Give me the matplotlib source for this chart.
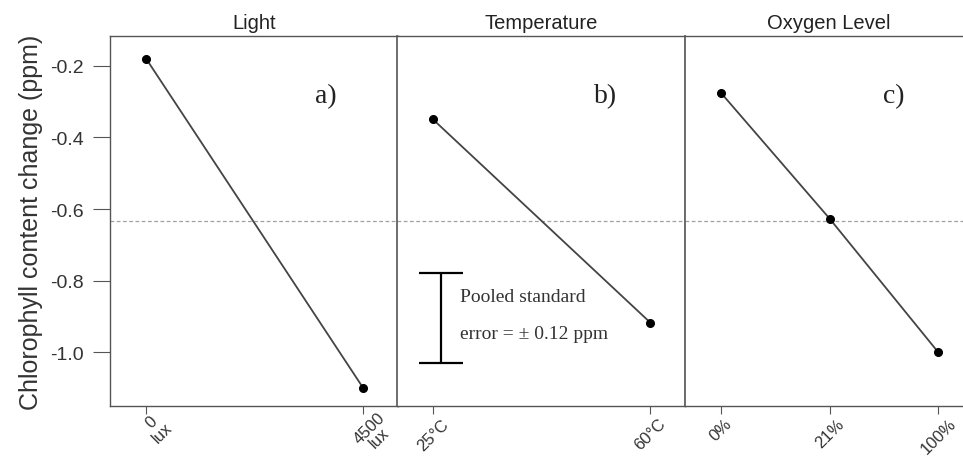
import matplotlib
matplotlib.use("Agg")
import matplotlib.pyplot as plt
import numpy as np

# main effects of each factor on chlorophyll change
factors = ["Light", "Temperature", "Oxygen Level"]
levels = [["0\nlux", "4500\nlux"], ["25°C", "60°C"], ["0%", "21%", "100%"]]
means = [[-0.18, -1.10], [-0.35, -0.917], [-0.276, -0.627, -1.0]]
panel_tags = ["a)", "b)", "c)"]
grand_mean = -0.633
pooled_se = 0.125

W, H = 963, 460
fig = plt.figure(figsize=(W / 100, H / 100), dpi=100)
sans = ["Liberation Sans", "DejaVu Sans"]
serif = ["Liberation Serif", "DejaVu Serif"]

lefts = [110, 397, 685]
width = 288
bottom, height = 53, 370
ylim = (-1.150, -0.117)
xlim = (-0.166, 1.16)
tag_x = [0.75, 0.725, 0.725]
lab_kw = dict(rotation=45, ha="center", va="top", fontsize=12,
              color="#333333", family=sans, linespacing=0.95)

axes = []
for k in range(3):
    ax = fig.add_axes([lefts[k] / W, bottom / H, width / W, height / H])
    axes.append(ax)
    n = len(levels[k])
    xs = np.linspace(0, 1, n)
    ax.axhline(grand_mean, color="#a0a0a0", lw=0.9, ls=(0, (3, 2)), zorder=1)
    ax.plot(xs, means[k], color="#444444", lw=1.3, zorder=2)
    ax.plot(xs, means[k], "o", color="black", ms=5.5, zorder=3)
    ax.set_xlim(*xlim)
    ax.set_ylim(*ylim)
    ax.set_xticks(xs)
    if k == 0:
        # two-line labels sit a little right of their ticks
        ax.set_xticklabels([""] * n)
        for x, lab in zip(xs, levels[k]):
            ax.annotate(lab, xy=(x, 0), xycoords=ax.get_xaxis_transform(),
                        xytext=(11, -3), textcoords="offset pixels",
                        annotation_clip=False, **lab_kw)
    else:
        ax.set_xticklabels(levels[k], **lab_kw)
    ax.tick_params(axis="x", direction="out", length=6, width=0.8,
                   color="#555555", pad=1)
    ax.set_title(factors[k], fontsize=14.5, family=sans, color="#222222", pad=6)
    ax.text(tag_x[k], 0.84, panel_tags[k], transform=ax.transAxes, fontsize=20,
            family=serif, ha="center", va="center", color="#222222")
    for s in ax.spines.values():
        s.set_color("#555555")
        s.set_linewidth(1.0)
    if k == 0:
        ax.set_yticks([-0.2, -0.4, -0.6, -0.8, -1.0])
        ax.set_yticklabels(["-0.2", "-0.4", "-0.6", "-0.8", "-1.0"],
                           fontsize=14, family=sans, color="#333333")
        ax.tick_params(axis="y", direction="out", length=12, width=0.8,
                       color="#555555", pad=7)
        ax.set_ylabel("Chlorophyll content change (ppm)", fontsize=18,
                      family=sans, color="#333333", labelpad=5)
    else:
        ax.set_yticks([])
        ax.spines["left"].set_linewidth(1.2)
    if k == 2:
        ax.spines["right"].set_visible(False)

# pooled standard error bar in the temperature panel
ax = axes[1]
ex = 0.037
ec = -0.905
ax.errorbar([ex], [ec], yerr=[pooled_se], color="black", lw=1.6,
            capsize=16, capthick=1.6, fmt="none", zorder=4)
ax.text(ex + 0.085, ec + 0.062, "Pooled standard", fontsize=14,
        family=serif, color="#333333", ha="left", va="center")
ax.text(ex + 0.085, ec - 0.043, "error = ± 0.12 ppm", fontsize=14,
        family=serif, color="#333333", ha="left", va="center")

fig.savefig("out.png", dpi=100)
